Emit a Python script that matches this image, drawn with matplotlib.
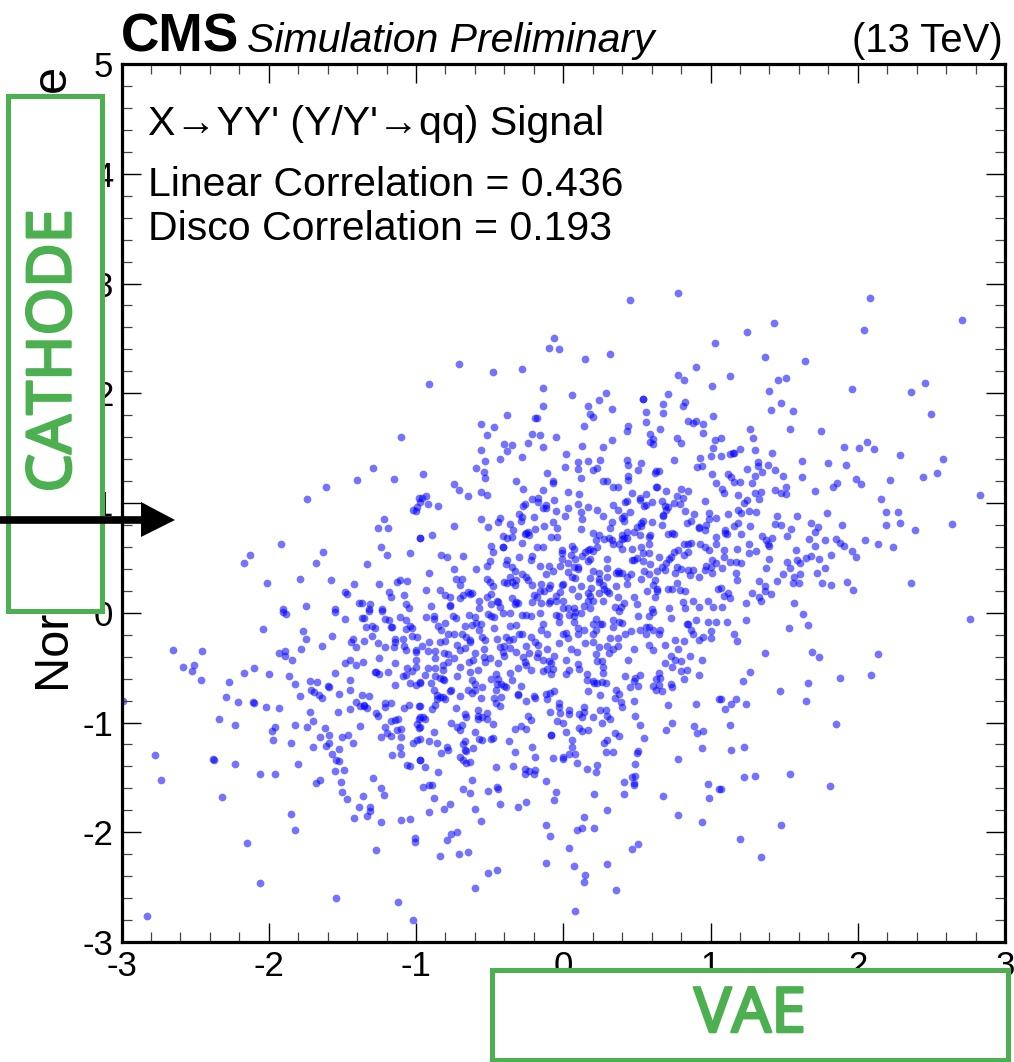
import numpy as np
import matplotlib
matplotlib.use("Agg")
import matplotlib.pyplot as plt
import matplotlib.patheffects as pe
from matplotlib.patches import Rectangle, Polygon
from matplotlib.ticker import MultipleLocator

plt.rcParams['font.family'] = ['Liberation Sans', 'DejaVu Sans']
plt.rcParams['axes.unicode_minus'] = False

# VAE score, CATHODE score, region by region
upper_left = [
    (-1.10,1.60),(-1.29,1.32),(-1.40,1.21),(-1.15,1.22),(-1.61,1.15),(-1.74,1.04),(-0.98,1.05),(-1.02,0.94),
    (-1.00,0.93),(-0.99,0.96),(-1.22,0.85),(-1.26,0.77),(-1.19,0.77),(-1.92,0.63),(-0.97,0.68),(-1.24,0.60),
    (-2.13,0.53),(-2.17,0.45),(-1.63,0.55),(-1.68,0.45),(-1.20,0.53),(-1.04,0.54),(-1.33,0.44),(-2.01,0.27),
    (-1.79,0.31),(-1.58,0.30),(-1.42,0.26),(-1.25,0.26),(-1.13,0.28),(-1.11,0.30),(-1.06,0.29),(-1.48,0.19),
    (-1.47,0.17),(-1.18,0.19),(-1.08,0.16),(-1.17,0.14),(-1.39,0.09),(-1.37,0.09),(-1.31,0.08),(-1.07,0.08),
    (-1.75,0.06),(-1.05,0.04),(-1.23,0.03),(-1.32,0.03),(-1.55,0.03),(-1.90,0.03),
]
lower_left = [
    (-2.04,-0.15),(-1.90,0.01),(-1.88,-0.01),(-1.55,0.01),(-1.32,0.02),(-1.23,0.02),(-1.48,-0.06),(-1.37,-0.05),
    (-1.35,-0.05),(-1.21,-0.06),(-1.18,-0.07),(-1.11,-0.04),(-1.07,-0.07),(-1.77,-0.17),(-1.75,-0.24),(-1.57,-0.21),
    (-1.34,-0.13),(-1.30,-0.12),(-1.28,-0.14),(-1.17,-0.13),(-1.16,-0.13),(-1.04,-0.12),(-1.03,-0.14),(-1.07,-0.15),
    (-1.30,-0.21),(-1.03,-0.21),(-0.99,-0.22),(-1.43,-0.24),(-1.44,-0.27),(-1.35,-0.26),(-1.14,-0.24),(-1.14,-0.27),
    (-1.09,-0.24),(-1.26,-0.28),(-1.41,-0.31),(-1.64,-0.30),(-1.21,-0.31),(-1.15,-0.31),(-1.08,-0.30),(-1.07,-0.34),
    (-1.00,-0.34),(-1.00,-0.36),(-1.78,-0.33),(-2.65,-0.34),(-2.45,-0.35),(-1.93,-0.37),(-1.89,-0.35),(-1.89,-0.39),
    (-1.84,-0.43),(-2.58,-0.49),(-2.51,-0.48),(-2.52,-0.53),(-2.46,-0.61),(-2.10,-0.50),(-2.17,-0.55),(-2.00,-0.56),
    (-1.86,-0.58),(-2.27,-0.63),(-1.82,-0.65),(-1.72,-0.62),(-1.67,-0.63),(-1.45,-0.43),(-1.48,-0.46),(-1.41,-0.48),
    (-1.36,-0.45),(-1.25,-0.41),(-1.14,-0.46),(-1.00,-0.43),(-1.06,-0.50),(-1.00,-0.49),(-1.03,-0.53),(-1.55,-0.55),
    (-1.28,-0.54),(-1.27,-0.54),(-1.25,-0.56),(-1.19,-0.54),(-1.09,-0.58),(-1.07,-0.57),(-1.45,-0.61),(-1.04,-0.64),
    (-1.00,-0.66),(-0.97,-0.64),(-1.14,-0.66),(-1.60,-0.67),(-1.59,-0.68),(-1.71,-0.70),(-1.69,-0.72),(-1.66,-0.75),
    (-1.64,-0.78),(-1.79,-0.76),(-1.52,-0.74),(-1.45,-0.70),(-1.37,-0.75),(-1.32,-0.76),(-2.29,-0.77),(-2.21,-0.81),
    (-2.11,-0.81),(-2.10,-0.82),(-2.02,-0.86),(-1.93,-0.87),(-1.41,-0.81),(-1.38,-0.85),(-1.35,-0.84),(-1.35,-0.85),
    (-1.33,-0.87),(-1.45,-0.88),(-1.21,-0.82),(-1.17,-0.82),(-1.21,-0.86),(-1.08,-0.87),(-1.05,-0.84),(-0.98,-0.85),
    (-1.72,-0.90),(-1.53,-0.90),(-1.27,-0.91),(-1.26,-0.94),(-2.34,-0.97),(-1.70,-0.99),(-1.17,-0.99),(-1.14,-0.98),
    (-1.12,-0.97),(-0.98,-0.97),(-0.99,-1.01),(-0.98,-1.05),(-2.23,-1.02),(-1.82,-1.02),(-1.96,-1.04),(-1.98,-1.08),
    (-1.74,-1.04),(-1.62,-1.05),(-1.38,-1.03),(-1.21,-1.04),(-1.13,-1.07),(-1.10,-1.06),(-1.59,-1.11),(-1.46,-1.11),
    (-1.50,-1.13),(-1.20,-1.10),(-1.17,-1.12),(-1.65,-1.13),(-1.24,-1.13),(-1.10,-1.13),(-1.97,-1.16),(-0.99,-1.16),
    (-1.85,-1.19),(-1.59,-1.19),(-1.61,-1.21),(-1.43,-1.19),(-1.02,-1.19),(-1.70,-1.22),(-1.52,-1.24),(-1.11,-1.22),
    (-1.57,-1.29),(-1.10,-1.29),(-1.16,-1.30),(-2.77,-1.30),(-2.38,-1.33),(-2.37,-1.34),(-1.54,-1.34),(-1.52,-1.35),
    (-0.97,-1.34),(-2.23,-1.38),(-1.80,-1.38),(-1.06,-1.39),(-1.04,-1.40),(-2.06,-1.47),(-1.96,-1.47),(-1.55,-1.44),
    (-1.49,-1.43),(-2.73,-1.52),(-1.65,-1.52),(-1.68,-1.55),(-1.51,-1.54),(-1.29,-1.51),(-1.24,-1.60),(-1.50,-1.63),
    (-1.47,-1.70),(-1.36,-1.67),(-1.22,-1.66),(-2.32,-1.68),(-1.39,-1.77),(-1.31,-1.77),(-1.31,-1.81),(-1.33,-1.85),
    (-1.85,-1.83),(-1.42,-1.87),(-1.24,-1.91),(-1.10,-1.89),(-1.04,-1.88),(-1.82,-1.98),(-1.01,-2.05),(-1.01,-2.09),
    (-2.15,-2.10),(-1.27,-2.16),(-2.06,-2.46),(-1.54,-2.60),(-1.12,-2.64),(-2.83,-2.76),(-1.02,-2.80),(-2.99,-0.80),
]
upper_mid = [
    (0.45,2.85),(0.78,2.91),(1.03,2.46),(-0.06,2.50),(-0.10,2.41),(-0.03,2.40),(0.32,2.36),(0.15,2.31),
    (-0.71,2.27),(-0.48,2.19),(-0.28,2.22),(-0.91,2.08),(0.78,2.17),(0.82,2.12),(0.90,2.24),(1.01,2.07),
    (-0.14,2.05),(0.06,1.98),(0.29,2.00),(0.24,1.94),(0.54,1.95),(0.54,1.95),(0.71,1.99),(0.68,1.90),
    (0.83,1.92),(0.81,1.88),(-0.14,1.88),(0.17,1.88),(0.33,1.86),(0.56,1.83),(0.68,1.82),(0.18,1.81),
    (0.20,1.78),(-0.38,1.80),(-0.19,1.77),(-0.18,1.77),(1.02,1.79),(0.85,1.75),(0.88,1.73),(0.90,1.75),
    (0.56,1.74),(0.95,1.72),(-0.56,1.72),(-0.47,1.69),(0.14,1.70),(0.44,1.70),(0.43,1.66),(0.66,1.67),
    (0.95,1.64),(-0.52,1.62),(-0.21,1.63),(-0.16,1.62),(-0.05,1.60),(0.59,1.63),(0.61,1.58),(0.59,1.56),
    (0.61,1.54),(0.77,1.59),(0.80,1.55),(1.03,1.57),(0.33,1.57),(-0.24,1.55),(-0.40,1.54),(-0.35,1.53),
    (0.13,1.52),(0.27,1.51),(-0.14,1.51),(-0.56,1.48),(-0.38,1.47),(1.02,1.50),(0.02,1.45),(1.00,1.43),
    (0.93,1.41),(-0.43,1.40),(-0.28,1.42),(-0.53,1.38),(0.17,1.38),(0.10,1.37),(0.25,1.39),(0.43,1.39),
    (0.44,1.35),(0.53,1.36),(0.75,1.39),(0.94,1.34),(0.91,1.33),(0.01,1.33),(0.10,1.31),(0.23,1.32),
    (0.20,1.30),(-0.59,1.32),(0.51,1.30),(-0.54,1.28),(-0.53,1.23),(-0.11,1.27),(0.63,1.29),(0.65,1.29),
    (0.62,1.27),(1.01,1.26),(-0.95,1.26),(0.44,1.25),(0.44,1.21),(0.12,1.23),(0.27,1.20),(0.30,1.20),
    (0.34,1.15),(0.37,1.15),(-0.32,1.20),(-0.07,1.20),(-0.07,1.18),(1.04,1.18),(-0.74,1.17),(-0.71,1.12),
    (-0.27,1.13),(0.63,1.15),(0.64,1.15),(0.80,1.13),(0.70,1.11),(0.85,1.11),(-0.14,1.12),(0.03,1.10),
    (0.47,1.09),(0.11,1.08),(0.56,1.08),(-0.56,1.10),(-0.52,1.07),(-0.65,1.06),(-0.93,1.06),(-0.96,1.05),
    (-0.92,0.99),(-0.97,1.01),(-0.21,1.04),(-0.17,1.05),(-0.17,1.01),(-0.06,1.03),(0.52,1.05),(0.52,1.03),
    (0.77,1.06),(0.81,1.05),(0.75,1.00),(0.79,0.99),(0.96,1.02),(0.42,1.01),(0.43,1.02),(0.60,1.01),
    (0.67,1.02),(0.10,0.99),(-0.85,0.97),(0.34,0.98),(0.37,0.94),(0.45,0.92),(0.55,0.97),(0.56,0.98),
    (-0.26,0.99),(-0.27,0.97),(-0.12,0.98),(-0.14,0.95),(-0.12,0.95),(0.03,0.95),(0.17,0.96),(0.69,0.97),
    (0.71,0.96),(0.70,0.94),(-0.05,0.93),(0.12,0.92),(0.23,0.94),(0.83,0.93),(-0.30,0.90),(-0.28,0.87),
    (-0.29,0.84),(0.01,0.88),(0.27,0.88),(0.41,0.88),(0.40,0.86),(0.41,0.84),(0.68,0.89),(0.68,0.88),
    (0.89,0.90),(0.87,0.84),(0.84,0.82),(0.99,0.91),(0.99,0.85),(0.97,0.80),(1.04,0.86),(-0.56,0.85),
    (-0.43,0.86),(-0.44,0.83),(-0.20,0.87),(0.13,0.85),(0.33,0.83),(0.54,0.84),(0.53,0.82),(0.60,0.83),
    (-0.07,0.83),(-0.36,0.81),(0.67,0.80),(-0.74,0.79),(-0.51,0.78),(-0.13,0.79),(-0.04,0.77),(-0.34,0.75),
    (-0.19,0.76),(0.12,0.76),(0.32,0.77),(0.50,0.78),(0.53,0.79),(0.48,0.74),(0.52,0.71),(0.92,0.78),
    (0.92,0.77),(0.96,0.75),(-0.24,0.74),(-0.25,0.73),(-0.23,0.71),(-0.26,0.72),(-0.89,0.71),(0.20,0.73),
    (0.24,0.71),(0.71,0.72),(0.74,0.73),(0.75,0.72),(0.43,0.74),(0.40,0.71),(0.40,0.67),(0.41,0.68),
    (0.43,0.68),(0.59,0.71),(0.58,0.69),(-0.41,0.70),(-0.38,0.68),(-0.35,0.69),(-0.08,0.69),(-0.04,0.69),
    (-0.97,0.68),(1.04,0.69),(0.22,0.66),(0.28,0.67),(0.31,0.68),(0.33,0.66),(0.34,0.63),(0.38,0.63),
    (-0.28,0.64),(0.82,0.63),(0.87,0.64),(0.85,0.63),(0.93,0.63),(0.96,0.60),(0.99,0.57),(1.04,0.63),
    (-0.49,0.61),(-0.41,0.60),(-0.41,0.60),(-0.18,0.60),(-0.14,0.60),(0.06,0.61),(0.07,0.58),(-0.01,0.57),
    (0.58,0.63),(0.40,0.58),(0.47,0.58),(0.53,0.60),(0.23,0.60),(0.17,0.57),(0.18,0.58),(0.20,0.56),
    (-0.48,0.55),(-0.01,0.54),(0.05,0.53),(0.15,0.55),(0.13,0.52),(0.54,0.54),(0.58,0.54),(0.75,0.55),
    (0.78,0.57),(0.82,0.53),(0.85,0.55),(0.65,0.51),(0.73,0.51),(0.72,0.49),(-0.83,0.53),(-0.79,0.51),
    (-0.68,0.52),(-0.30,0.51),(-0.21,0.52),(-0.22,0.48),(-0.38,0.48),(-0.01,0.49),(0.08,0.49),(0.03,0.45),
    (0.18,0.49),(0.17,0.47),(0.30,0.49),(0.47,0.48),(0.48,0.48),(0.50,0.50),(0.54,0.47),(0.59,0.44),
    (0.70,0.45),(0.67,0.42),(0.69,0.39),(-0.50,0.47),(-0.52,0.43),(-0.59,0.40),(-0.39,0.44),(-0.35,0.42),
    (-0.33,0.38),(-0.16,0.43),(-0.10,0.43),(-0.02,0.43),(-0.74,0.40),(0.07,0.42),(0.10,0.42),(0.10,0.40),
    (-0.07,0.38),(0.03,0.37),(0.06,0.33),(0.08,0.32),(0.20,0.38),(0.24,0.36),(0.30,0.41),(0.37,0.38),
    (0.38,0.36),(0.36,0.36),(0.40,0.36),(0.30,0.33),(0.43,0.33),(0.46,0.35),(-0.91,0.36),(0.55,0.38),
    (0.58,0.35),(0.53,0.31),(0.64,0.38),(0.77,0.42),(0.80,0.40),(0.76,0.36),(0.85,0.39),(0.88,0.39),
    (0.86,0.34),(0.92,0.33),(0.97,0.43),(0.96,0.39),(1.00,0.42),(1.04,0.45),(1.01,0.48),(1.01,0.36),
    (-0.12,0.35),(-0.36,0.33),(-0.28,0.35),(-0.25,0.33),(-0.24,0.30),(0.18,0.32),(0.24,0.31),(0.24,0.28),
    (-0.73,0.31),(-0.69,0.31),(-0.70,0.25),(-0.52,0.31),(-0.50,0.28),(-0.48,0.24),(-0.32,0.30),(-0.35,0.28),
    (-0.40,0.28),(-0.38,0.27),(-0.33,0.25),(0.62,0.30),(0.61,0.25),(0.64,0.22),(0.64,0.20),(-0.21,0.25),
    (-0.15,0.26),(-0.09,0.25),(-0.10,0.23),(0.00,0.26),(-0.01,0.25),(0.06,0.22),(0.12,0.24),(0.19,0.23),
    (0.27,0.25),(0.28,0.22),(0.30,0.20),(0.31,0.18),(0.36,0.24),(0.43,0.26),(0.77,0.27),(0.71,0.22),
    (0.74,0.22),(0.79,0.21),(0.83,0.20),(0.57,0.20),(1.05,0.22),(-0.93,0.21),(-0.84,0.21),(-0.80,0.16),
    (-0.77,0.14),(-0.70,0.13),(-0.68,0.16),(-0.65,0.19),(-0.62,0.18),(-0.63,0.17),(-0.52,0.14),(-0.49,0.17),
    (-0.57,0.11),(-0.35,0.13),(-0.32,0.10),(-0.31,0.09),(-0.33,0.08),(-0.45,0.11),(-0.44,0.10),(-0.49,0.08),
    (-0.43,0.05),(-0.20,0.16),(-0.16,0.20),(-0.13,0.20),(-0.18,0.14),(-0.21,0.10),(-0.05,0.15),(-0.02,0.19),
    (-0.05,0.11),(-0.09,0.11),(-0.15,0.09),(0.00,0.11),(0.10,0.15),(0.17,0.18),(0.18,0.15),(0.17,0.11),
    (0.20,0.11),(0.24,0.18),(0.27,0.11),(0.37,0.14),(0.41,0.09),(0.48,0.14),(0.50,0.08),(0.62,0.14),
    (0.81,0.10),(0.88,0.11),(0.92,0.05),(0.98,0.11),(1.02,0.05),(-0.90,0.06),(-0.77,0.07),(-0.77,0.06),
    (-0.57,0.04),(-0.10,0.09),(0.14,0.06),(0.00,0.04),(0.03,0.04),(0.07,0.04),(0.18,0.04),(0.35,0.05),
    (0.39,0.05),(0.60,0.03),(0.72,0.04),(0.83,0.04),
]
upper_right = [
    (2.08,2.87),(2.71,2.67),(1.43,2.64),(1.25,2.56),(2.04,2.58),(1.37,2.33),(1.64,2.29),(1.13,2.16),
    (1.46,2.12),(1.51,2.14),(1.40,2.02),(1.96,2.04),(2.36,2.01),(2.46,2.09),(1.48,1.91),(1.41,1.85),
    (1.56,1.84),(2.50,1.81),(1.27,1.67),(1.54,1.67),(1.75,1.66),(1.29,1.59),(1.07,1.59),(2.06,1.56),
    (1.91,1.51),(2.01,1.50),(2.11,1.49),(1.20,1.49),(1.30,1.48),(1.42,1.46),(1.15,1.46),(1.16,1.46),
    (1.13,1.45),(1.07,1.43),(2.29,1.44),(2.58,1.40),(1.62,1.38),(1.32,1.37),(1.32,1.34),(1.39,1.35),
    (1.80,1.36),(1.92,1.35),(1.25,1.31),(1.44,1.30),(1.35,1.28),(2.54,1.27),(1.12,1.26),(1.14,1.24),
    (1.30,1.25),(1.49,1.25),(1.62,1.24),(2.44,1.24),(1.99,1.22),(2.22,1.21),(1.16,1.19),(1.20,1.19),
    (1.28,1.18),(1.86,1.18),(1.83,1.15),(2.02,1.17),(1.51,1.15),(1.08,1.13),(1.09,1.09),(1.44,1.12),
    (1.48,1.09),(1.51,1.08),(1.71,1.11),(1.30,1.09),(1.34,1.10),(1.19,1.07),(2.83,1.07),(1.25,1.03),
    (1.23,1.00),(1.33,1.04),(2.16,1.04),(1.19,0.94),(1.21,0.91),(1.26,0.93),(1.31,0.92),(2.19,0.92),
    (2.27,0.92),(1.79,0.91),(1.12,0.90),(1.45,0.88),(1.59,0.88),(1.19,0.82),(1.16,0.79),(1.27,0.79),
    (1.68,0.82),(1.73,0.78),(1.71,0.74),(1.44,0.81),(1.48,0.80),(1.89,0.80),(2.19,0.80),(2.29,0.82),
    (2.64,0.81),(1.55,0.76),(2.39,0.75),(1.10,0.75),(1.11,0.72),(1.10,0.73),(1.21,0.72),(1.35,0.70),
    (1.42,0.68),(1.52,0.70),(1.67,0.67),(1.78,0.66),(1.85,0.67),(1.88,0.64),(1.91,0.61),(2.05,0.66),
    (2.14,0.63),(2.24,0.60),(1.38,0.66),(1.39,0.63),(1.40,0.61),(1.26,0.63),(1.71,0.61),(1.18,0.58),
    (1.09,0.57),(1.31,0.56),(1.26,0.54),(1.58,0.57),(1.96,0.56),(1.99,0.51),(1.82,0.53),(1.09,0.51),
    (1.40,0.49),(1.65,0.50),(1.68,0.52),(1.74,0.49),(1.59,0.48),(1.61,0.45),(1.13,0.46),(1.17,0.46),
    (1.21,0.45),(1.52,0.46),(1.54,0.41),(1.08,0.41),(1.38,0.41),(1.78,0.41),(1.17,0.36),(1.49,0.35),
    (1.72,0.36),(1.61,0.35),(1.57,0.33),(1.18,0.30),(1.33,0.29),(1.45,0.29),(1.56,0.27),(1.60,0.27),
    (1.76,0.27),(1.82,0.25),(1.93,0.28),(1.97,0.21),(2.36,0.27),(1.37,0.24),(1.37,0.20),(1.28,0.18),
    (1.41,0.17),(1.07,0.23),(1.12,0.18),(1.09,0.15),(1.13,0.13),(1.33,0.14),(1.34,0.11),(1.24,0.09),
    (1.57,0.09),(1.08,0.05),
]
lower_right = [
    (1.63,-0.01),(2.76,-0.06),(1.11,-0.08),(1.24,-0.07),(1.53,-0.14),(1.66,-0.11),(1.16,-0.19),(1.18,-0.26),
    (1.37,-0.37),(1.69,-0.36),(1.74,-0.40),(2.14,-0.38),(1.27,-0.54),(1.22,-0.62),(1.88,-0.59),(2.09,-0.57),
    (1.66,-0.64),(1.47,-0.71),(1.65,-0.80),(1.07,-0.79),(1.17,-0.79),(1.14,-0.83),(1.24,-0.83),(1.10,-0.88),
    (1.13,-1.02),(1.85,-1.01),(1.23,-1.22),(1.14,-1.25),(1.23,-1.50),(1.30,-1.49),(1.54,-1.47),(1.81,-1.58),
    (1.07,-1.61),(1.48,-1.93),(1.20,-2.06),(1.34,-2.23),
]
lower_mid = [
    (0.08,-2.72),(0.36,-2.53),(-0.60,-2.51),(0.14,-2.45),(0.15,-2.39),(0.07,-2.31),(0.30,-2.29),(-0.12,-2.28),
    (-0.45,-2.34),(-0.51,-2.37),(-0.84,-2.22),(-0.71,-2.20),(-0.65,-2.18),(0.04,-2.14),(0.47,-2.15),(0.51,-2.11),
    (-0.79,-2.07),(-0.76,-2.02),(-0.72,-2.00),(-0.09,-2.03),(-0.12,-1.93),(0.09,-1.98),(0.13,-1.96),(0.21,-1.96),
    (-0.56,-1.90),(0.14,-1.86),(0.30,-1.80),(0.78,-1.84),(0.94,-1.91),(-0.91,-1.82),(-0.81,-1.79),(-0.77,-1.74),
    (-0.60,-1.79),(-0.88,-1.69),(-0.43,-1.74),(-0.31,-1.77),(-0.25,-1.72),(-0.06,-1.71),(-0.05,-1.63),(0.21,-1.65),
    (0.41,-1.65),(0.68,-1.67),(0.99,-1.69),(0.98,-1.56),(1.06,-1.61),(-0.95,-1.59),(-0.91,-1.57),(-0.89,-1.57),
    (-0.68,-1.61),(-0.63,-1.64),(-0.51,-1.62),(-0.45,-1.59),(-0.44,-1.61),(-0.62,-1.52),(-0.12,-1.53),(0.41,-1.54),
    (0.48,-1.57),(0.48,-1.55),(0.47,-1.50),(0.49,-1.49),(-0.85,-1.45),(-0.94,-1.41),(-0.97,-1.34),(-0.46,-1.41),
    (-0.34,-1.40),(-0.26,-1.42),(-0.23,-1.44),(-0.19,-1.43),(-0.26,-1.47),(-0.20,-1.47),(0.16,-1.42),(0.23,-1.39),
    (0.22,-1.45),(0.49,-1.38),(0.09,-1.37),(0.78,-1.33),(-0.70,-1.31),(-0.68,-1.34),(-0.66,-1.37),(-0.63,-1.36),
    (-0.19,-1.31),(-0.07,-1.32),(0.00,-1.31),(0.00,-1.33),(0.04,-1.29),(0.08,-1.29),(-0.33,-1.27),(-0.21,-1.22),
    (-0.83,-1.28),(-0.79,-1.22),(-0.78,-1.25),(-0.67,-1.17),(-0.68,-1.20),(-0.67,-1.25),(-0.66,-1.26),(-0.61,-1.23),
    (0.06,-1.22),(0.06,-1.16),(0.29,-1.27),(0.34,-1.27),(0.51,-1.26),(0.50,-1.28),(0.94,-1.23),(-0.91,-1.17),
    (-0.86,-1.19),(-0.97,-1.15),(-0.57,-1.15),(-0.55,-1.16),(-0.49,-1.15),(-0.48,-1.14),(-0.37,-1.17),(0.28,-1.19),
    (0.30,-1.16),(-0.88,-1.09),(-0.60,-1.09),(-0.08,-1.11),(-0.08,-1.11),(0.02,-1.09),(0.35,-1.10),(0.38,-1.12),
    (0.55,-1.14),(0.70,-1.07),(0.74,-1.00),(0.89,-1.03),(0.91,-1.10),(0.95,-1.08),(-0.76,-1.00),(-0.72,-1.04),
    (-0.69,-1.02),(-0.70,-1.07),(-0.33,-1.06),(-0.29,-1.03),(-0.25,-1.06),(0.11,-1.05),(0.13,-1.08),(0.17,-1.07),
    (0.00,-1.00),(-0.04,-0.99),(0.26,-1.00),(0.52,-1.02),(-0.48,-1.01),(-0.97,-0.95),(-0.95,-0.95),(-0.94,-0.97),
    (-0.97,-1.04),(-0.22,-0.98),(-0.24,-0.94),(-0.58,-0.94),(-0.52,-0.97),(-0.55,-0.95),(-0.52,-0.91),(-0.58,-0.89),
    (-0.58,-0.97),(-0.67,-0.92),(-0.66,-0.95),(-0.09,-0.90),(0.04,-0.89),(0.04,-0.92),(-0.03,-0.82),(-0.03,-0.86),
    (-0.02,-0.91),(0.14,-0.86),(0.11,-0.92),(0.14,-0.90),(0.13,-0.95),(0.20,-0.95),(0.25,-0.89),(0.29,-0.89),
    (0.30,-0.94),(0.32,-0.97),(0.49,-0.94),(-0.73,-0.87),(-0.89,-0.88),(-0.87,-0.84),(-0.97,-0.85),(0.40,-0.86),
    (0.39,-0.81),(0.71,-0.84),(0.90,-0.83),(-0.46,-0.82),(-0.43,-0.85),(0.48,-0.80),(0.35,-0.78),(0.38,-0.74),
    (1.06,-0.79),(-0.25,-0.80),(-0.20,-0.76),(-0.19,-0.78),(-0.11,-0.79),(-0.12,-0.74),(-0.09,-0.73),(-0.06,-0.71),
    (0.25,-0.75),(0.17,-0.71),(-0.31,-0.74),(-0.31,-0.75),(-0.29,-0.67),(-0.47,-0.78),(-0.42,-0.77),(-0.56,-0.78),
    (-0.70,-0.76),(-0.80,-0.79),(-0.84,-0.77),(-0.86,-0.75),(-0.86,-0.79),(-0.82,-0.77),(-0.76,-0.70),(-0.77,-0.71),
    (-0.65,-0.70),(-0.62,-0.73),(-0.60,-0.70),(-0.55,-0.68),(-0.46,-0.70),(-0.45,-0.65),(-0.42,-0.65),(-0.40,-0.67),
    (-0.39,-0.68),(-0.88,-0.70),(-0.90,-0.64),(-0.97,-0.63),(0.36,-0.70),(0.45,-0.68),(0.51,-0.67),(0.61,-0.67),
    (0.63,-0.70),(0.65,-0.66),(0.67,-0.71),(0.74,-0.68),(0.73,-0.65),(-0.60,-0.65),(-0.62,-0.61),(-0.49,-0.60),
    (-0.44,-0.60),(-0.35,-0.61),(0.16,-0.61),(0.20,-0.62),(0.21,-0.64),(0.23,-0.64),(0.26,-0.63),(0.29,-0.64),
    (0.48,-0.62),(0.49,-0.59),(0.52,-0.57),(0.63,-0.60),(0.66,-0.59),(0.65,-0.55),(0.82,-0.60),(0.92,-0.57),
    (-0.87,-0.58),(-0.84,-0.59),(-0.82,-0.60),(-0.81,-0.61),(-0.72,-0.58),(0.42,-0.58),(-0.46,-0.56),(-0.36,-0.55),
    (0.16,-0.56),(0.02,-0.56),(0.04,-0.52),(0.27,-0.55),(-0.94,-0.57),(-0.92,-0.50),(-0.87,-0.50),(-0.63,-0.54),
    (-0.58,-0.52),(-0.82,-0.52),(-0.31,-0.50),(-0.22,-0.52),(-0.14,-0.53),(-0.08,-0.56),(-0.07,-0.51),(-0.11,-0.51),
    (0.11,-0.51),(0.10,-0.47),(0.27,-0.49),(0.69,-0.46),(0.74,-0.49),(0.80,-0.53),(0.84,-0.52),(-0.70,-0.49),
    (-0.82,-0.48),(-0.78,-0.45),(-0.64,-0.45),(-0.61,-0.43),(-0.53,-0.45),(-0.44,-0.46),(-0.26,-0.45),(-0.25,-0.48),
    (-0.10,-0.44),(-0.08,-0.46),(0.23,-0.44),(0.26,-0.44),(0.44,-0.43),(0.94,-0.43),(0.76,-0.43),(0.80,-0.44),
    (-0.87,-0.41),(-0.74,-0.41),(-0.78,-0.38),(-0.81,-0.37),(-0.54,-0.40),(-0.50,-0.41),(0.02,-0.43),(-0.18,-0.40),
    (-0.17,-0.37),(-0.14,-0.43),(-0.40,-0.39),(-0.41,-0.36),(-0.27,-0.40),(-0.23,-0.37),(-0.06,-0.39),(0.22,-0.38),
    (0.73,-0.39),(0.86,-0.39),(-0.92,-0.35),(-0.87,-0.35),(-0.70,-0.34),(-0.67,-0.32),(-0.60,-0.37),(-0.54,-0.33),
    (-0.32,-0.36),(0.09,-0.36),(0.05,-0.33),(0.31,-0.37),(0.34,-0.33),(0.48,-0.33),(0.61,-0.34),(0.78,-0.33),
    (-0.11,-0.33),(-0.96,-0.30),(-0.72,-0.29),(-0.63,-0.27),(-0.43,-0.31),(-0.40,-0.30),(-0.36,-0.32),(-0.25,-0.30),
    (-0.19,-0.27),(-0.17,-0.29),(0.24,-0.31),(0.30,-0.30),(0.37,-0.30),(0.58,-0.29),(0.69,-0.29),(-0.91,-0.27),
    (-0.84,-0.27),(-0.80,-0.26),(-0.63,-0.25),(-0.03,-0.28),(0.15,-0.28),(0.20,-0.27),(0.76,-0.25),(0.82,-0.26),
    (-0.45,-0.24),(-0.53,-0.25),(-0.39,-0.22),(-0.37,-0.25),(-0.34,-0.24),(-0.30,-0.19),(-0.22,-0.22),(-0.78,-0.19),
    (-0.74,-0.19),(-0.69,-0.19),(-0.66,-0.22),(-0.55,-0.22),(0.03,-0.23),(0.32,-0.23),(0.37,-0.23),(0.42,-0.19),
    (0.46,-0.17),(0.52,-0.16),(0.56,-0.19),(0.61,-0.16),(0.65,-0.19),(0.66,-0.16),(0.92,-0.25),(0.95,-0.22),
    (1.00,-0.23),(1.00,-0.17),(0.88,-0.19),(0.87,-0.16),(0.85,-0.10),(0.84,-0.10),(0.20,-0.19),(0.22,-0.16),
    (0.20,-0.10),(0.00,-0.19),(0.02,-0.18),(0.10,-0.14),(0.14,-0.16),(0.10,-0.19),(-0.11,-0.19),(-0.15,-0.16),
    (-0.14,-0.10),(-0.28,-0.19),(-0.36,-0.12),(-0.32,-0.11),(-0.57,-0.16),(-0.47,-0.14),(-0.67,-0.12),(-0.80,-0.09),
    (-0.83,-0.16),(-0.85,-0.12),(-0.62,-0.11),(-0.59,-0.09),(-0.56,-0.10),(0.26,-0.10),(0.25,-0.10),(0.34,-0.13),
    (0.34,-0.07),(0.38,-0.08),(0.40,-0.09),(0.56,-0.13),(0.58,-0.13),(0.90,-0.07),(0.98,-0.08),(1.04,-0.08),
    (-0.03,-0.08),(0.07,-0.08),(0.22,-0.06),(-0.93,-0.04),(-0.88,-0.03),(-0.88,-0.06),(-0.75,-0.03),(-0.73,-0.05),
    (-0.64,-0.02),(-0.60,-0.04),(-0.51,-0.01),(-0.49,-0.03),(-0.47,-0.04),(-0.28,-0.02),(-0.25,-0.02),(-0.22,-0.03),
    (-0.05,-0.02),(-0.03,-0.03),(0.04,-0.02),(0.07,-0.03),(0.08,0.01),(0.51,-0.03),(0.58,-0.03),(0.61,0.01),
    (0.73,-0.05),(-0.36,0.00),(-0.41,0.00),(-0.16,0.00),(0.12,0.00),(0.38,0.02),
]

x_ticks = [-3, -2, -1, 0, 1, 2, 3]
y_ticks = [-3, -2, -1, 0, 1, 2, 3, 4, 5]
correlations = ["Linear Correlation = 0.436", "Disco Correlation = 0.193"]

points = np.array(upper_left + lower_left + upper_mid + lower_mid + upper_right + lower_right)

W, H = 1014, 1062
fig = plt.figure(figsize=(W / 100, H / 100), dpi=100)
ax = fig.add_axes([121.5 / W, 1 - 942 / H, 883.5 / W, 878 / H])
ax.scatter(points[:, 0], points[:, 1], s=31, color='#0000ff', alpha=0.55, linewidths=0)
ax.set_xlim(-3, 3)
ax.set_ylim(-3, 5)
ax.set_xticks(x_ticks)
ax.set_yticks(y_ticks)
ax.xaxis.set_minor_locator(MultipleLocator(0.2))
ax.yaxis.set_minor_locator(MultipleLocator(0.2))
ax.tick_params(which='both', direction='in', top=True, right=True)
ax.tick_params(which='major', length=14, width=1.0, labelsize=25, pad=6)
ax.tick_params(which='minor', length=7, width=0.9, color='#444444')
for s in ax.spines.values():
    s.set_linewidth(2.3)

# overlay in picture pixels for the annotations on top
ov = fig.add_axes([0, 0, 1, 1], zorder=5)
ov.set_xlim(0, W)
ov.set_ylim(H, 0)
ov.axis('off')
ov.patch.set_alpha(0)

ov.text(121, 51, "CMS", fontsize=38.3, fontweight='bold', va='baseline', ha='left')
ov.text(247, 52, "Simulation Preliminary", fontsize=29.5, style='italic', va='baseline', ha='left')
ov.text(1003, 52, "(13 TeV)", fontsize=28.9, va='baseline', ha='right')
ov.text(148, 135, "X\u2192YY' (Y/Y'\u2192qq) Signal", fontsize=29.6, va='baseline', ha='left')
ov.text(148, 196, correlations[0], fontsize=29.5, va='baseline', ha='left')
ov.text(148, 240, correlations[1], fontsize=29.5, va='baseline', ha='left')
# y title, only these ends show outside the box
ov.text(65, 688, "Nor", fontsize=35, rotation=90, va='baseline', ha='left', rotation_mode='anchor')
ov.text(65, 92, "e", fontsize=35, rotation=90, va='baseline', ha='left', rotation_mode='anchor')

green = '#4caf50'
# no bold cut of Noto Sans here, so thicken the strokes
thick = [pe.withStroke(linewidth=1.8, foreground=green)]
ov.add_patch(Rectangle((8, 96), 94, 515, fc='white', ec=green, lw=3.6, zorder=3))
ov.add_patch(Rectangle((492, 970), 516, 90, fc='white', ec=green, lw=3.6, zorder=3))
ov.text(55, 351, "CATHODE", color=green, fontsize=44, family='Noto Sans',
        rotation=90, va='center', ha='center', zorder=4, path_effects=thick)
ov.text(750, 1016, "VAE", color=green, fontsize=45, family='Noto Sans',
        va='center', ha='center', zorder=4, path_effects=thick)

# black arrow
ov.plot([0, 145], [520, 520], color='black', lw=5.5, solid_capstyle='butt', zorder=6)
ov.add_patch(Polygon([(141, 502), (175, 520), (141, 537)], fc='black', ec='none', zorder=6))

plt.savefig('out.png', dpi=100)
